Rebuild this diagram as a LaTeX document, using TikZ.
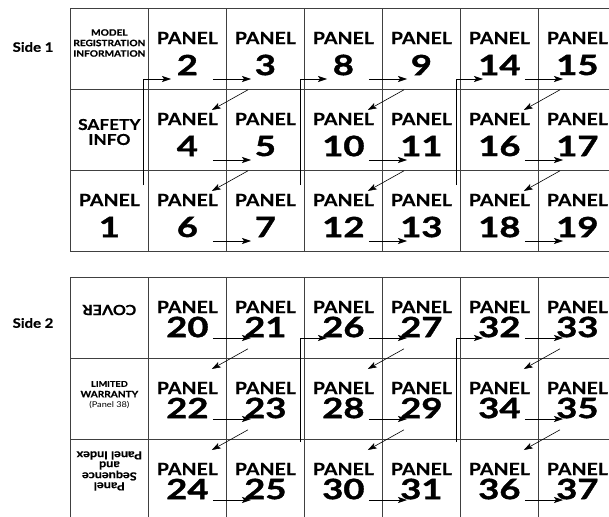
\documentclass[tikz,border=0pt]{standalone}
\usepackage{fontspec}
\setmainfont{Lato}[FakeStretch=1.15, BoldFeatures={FakeBold=0.6}]
\newfontfamily\numfont{Lato}[FakeStretch=1.3, BoldFeatures={FakeBold=1.4}]
\usetikzlibrary{calc,arrows.meta}
\tikzset{
  cell/.style={
    draw=black!75,
    line width=0.8pt,
    minimum width=78pt,
    minimum height=81pt,
    inner sep=0pt,
    anchor=north west
  },
  pnl/.style={font=\bfseries\fontsize{17}{17}\selectfont, inner sep=0pt},
  num/.style={font=\numfont\bfseries\fontsize{28}{28}\selectfont, inner sep=0pt},
  note/.style={font=\bfseries\fontsize{8.8}{10.5}\selectfont, align=center, inner sep=0pt},
  sidelbl/.style={font=\bfseries\fontsize{13}{13}\selectfont, inner sep=0pt},
  flow/.style={-{Stealth[length=9pt,width=6pt,inset=2pt]}, line width=0.6pt},
}
% #1 prefix, #2 top, #3 first panel, #4 number drop, #5 arrow drop, #6 diagonal drop, #7 riser drop
\newcommand{\PanelSide}[7]{%
  \foreach \row in {0,1,2} {
    \node[cell] (#1L\row) at (70,{#2+\row*81}) {};
    \foreach \col in {1,...,6} {
      \pgfmathtruncatemacro{\pn}{#3+6*int((\col-1)/2)+2*\row+mod(\col-1,2)}
      \node[cell] (#1C\pn) at ({70+\col*78},{#2+\row*81}) {};
      \node[pnl] (#1T\pn) at ($(#1C\pn.north)+(0,30)$) {PANEL};
      \node[num] (#1N\pn) at ($(#1C\pn.north)+(0,#4)$) {\pn};
    }
  }
  \foreach \grp in {0,1,2} {
    \foreach \row in {0,1,2} {
      \pgfmathtruncatemacro{\pa}{#3+6*\grp+2*\row}
      \pgfmathtruncatemacro{\pb}{\pa+1}
      \draw[flow] ($(#1C\pa.north east)+(-14,#5)$) -- ($(#1C\pb.north west)+(25,#5)$);
    }
    \foreach \row in {0,1} {
      \pgfmathtruncatemacro{\pb}{#3+6*\grp+2*\row+1}
      \pgfmathtruncatemacro{\pa}{\pb+1}
      \draw[flow] ($(#1C\pb.south west)+(22,#6)$) -- ($(#1C\pa.north east)+(-15,{#6+21})$);
    }
  }
  \foreach \grp in {1,2} {
    \pgfmathtruncatemacro{\pa}{#3+6*\grp-1}
    \pgfmathtruncatemacro{\pb}{#3+6*\grp}
    \draw[flow] ($(#1C\pa.north east)+(-5,#7)$) |- ($(#1C\pb.north west)+(23,#5)$);
  }
}

\begin{document}
\begin{tikzpicture}[x=1pt,y=-1pt]
  \useasboundingbox (0,0) rectangle (609,516);
  \clip (0,0) rectangle (609,516);
  % side 1
  \node[sidelbl] (side1) at (33,47) {Side 1};
  \PanelSide{A}{8}{2}{57}{71}{0}{15}
  \node[note] (model) at ($(AL0.north)+(0,35)$) {MODEL\\REGISTRATION\\INFORMATION};
  \node[pnl, align=center, font=\bfseries\fontsize{15}{15}\selectfont] (safety) at ($(AL1.north)+(0,43)$) {SAFETY\\INFO};
  \node[pnl] (AT1) at ($(AL2.north)+(0,30)$) {PANEL};
  \node[num] (AN1) at ($(AL2.north)+(0,57)$) {1};
  \draw[flow] ($(AL2.north east)+(-6,15)$) |- ($(AC2.north west)+(23,71)$);
  % side 2
  \node[sidelbl] (side2) at (33,323) {Side 2};
  \PanelSide{B}{277}{20}{50}{61}{-10}{3}
  \node[pnl, rotate=180, font=\bfseries\fontsize{14}{14}\selectfont] (cover) at ($(BL0.north)+(0,33)$) {COVER};
  \node[note] (warranty) at ($(BL1.north)+(0,37)$) {{\fontsize{8}{10.5}\selectfont LIMITED}\\WARRANTY\\{\mdseries\fontsize{8}{10.5}\selectfont(Panel 38)}};
  \node[note, rotate=180, font=\bfseries\fontsize{11}{10}\selectfont] (sequence) at ($(BL2.north)+(0,32)$) {Panel\\Sequence\\and\\Panel Index};
\end{tikzpicture}
\end{document}
